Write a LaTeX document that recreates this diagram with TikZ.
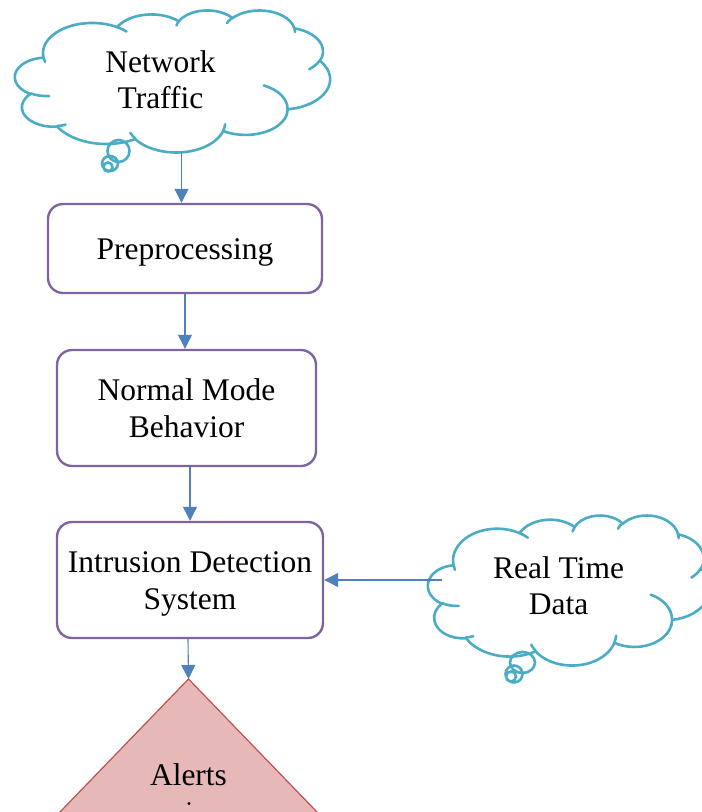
\documentclass[tikz,border=0pt]{standalone}
\usepackage{fontspec}
\setmainfont{Liberation Serif}
\usetikzlibrary{arrows.meta,calc}

\definecolor{boxline}{HTML}{8064A2}
\definecolor{cloudline}{HTML}{4BACC6}
\definecolor{arrowline}{HTML}{4F81BD}
\definecolor{alertfill}{HTML}{E6B9B8}
\definecolor{alertline}{HTML}{C0504D}

% Cloud outline in a 432 x 432 design box: x radius / y radius / start angle / sweep
% (angles are visual directions, in degrees, y pointing down)
\def\cloudarcs{67.53/91.90/-190.48748/123.78053, 53.33/72.67/-144.10238/89.94523,
  43.65/59.45/-145.80792/99.72302, 48.57/65.95/-130.98607/117.24173,
  53.33/72.73/-78.70888/109.02692, 67.75/92.20/-46.26725/130.269,
  57.85/78.67/0.62502/114.03333, 67.52/92.15/22.4516/115.17255,
  77.20/105.43/66.24263/75.71102, 43.60/59.18/-274.94208/146.73557,
  43.45/59.45/-246.8285/152.51885}
% Short inner strokes: start x / start y / x radius / y radius / start angle / sweep
\def\cloudstrokes{46.93/261.77/43.45/59.45/86.742/26.4295,
  69.28/348.99/43.60/59.18/73.61047/11.44747,
  164.78/390.90/67.52/92.15/137.62415/14.0811,
  288.27/347.51/67.52/92.15/6.45327/15.99835,
  341.29/229.54/57.85/78.67/-70.29235/70.91737,
  417.98/153.54/53.33/72.73/30.31803/27.7515,
  383.24/54.26/48.57/65.95/-13.74433/14.8589,
  290.78/39.52/48.57/65.95/-149.18145/18.19537,
  221.41/47.20/43.65/59.45/-163.49427/17.68635,
  140.00/51.92/67.53/91.90/-66.70695/12.31935,
  41.27/157.89/67.53/91.90/157.65435/11.85817}

% Build the TikZ path pieces once (visual angles turned into ellipse parameters)
\gdef\cloudpath{}
\foreach \a/\b/\s/\w in \cloudarcs {%
  \pgfmathsetmacro\ts{atan2(\a*sin(\s),\b*cos(\s))}%
  \pgfmathsetmacro\te{atan2(\a*sin(\s+\w),\b*cos(\s+\w))}%
  \pgfmathsetmacro\dt{mod(\te-(\ts)+720,360)}%
  \xdef\cloudpath{\cloudpath arc[start angle=\ts,delta angle=\dt,x radius=\a,y radius=\b]}%
}
\gdef\cloudinner{}
\foreach \px/\py/\a/\b/\s/\w in \cloudstrokes {%
  \pgfmathsetmacro\ts{atan2(\a*sin(\s),\b*cos(\s))}%
  \pgfmathsetmacro\te{atan2(\a*sin(\s+\w),\b*cos(\s+\w))}%
  \pgfmathsetmacro\dt{mod(\te-(\ts)+720,360)}%
  \xdef\cloudinner{\cloudinner (\px,\py) arc[start angle=\ts,delta angle=\dt,x radius=\a,y radius=\b]}%
}

% \drawcloud{left}{top}{width}{height}
\newcommand\drawcloud[4]{%
  \pgfmathsetmacro\cux{#3/432}%
  \pgfmathsetmacro\cuy{#4/432}%
  \begin{scope}[shift={(#1,#2)}, x=\cux pt, y=-\cuy pt]
    \draw[cloudstroke] (39.00,143.70) \cloudpath -- cycle;
    \draw[cloudstroke] \cloudinner;
  \end{scope}%
}

\begin{document}
\begin{tikzpicture}[x=1pt, y=-1pt,
  txt/.style={font=\fontsize{31.5}{36.5}\selectfont, align=center,
    inner sep=0pt, text height=21.5pt, text depth=0pt},
  twolines/.style={text height=58pt, text depth=0pt},
  stage/.style={txt, draw=boxline, line width=2.4pt, rounded corners=15pt},
  cloudstroke/.style={draw=cloudline, line width=2.6pt, line cap=round},
  flow/.style={draw=arrowline, line width=1.1pt,
    -{Triangle[width=14pt,length=14pt]}},
]
\useasboundingbox (0,0) rectangle (702,812);
\clip (0,0) rectangle (702,812);

% thought clouds
\drawcloud{15}{10}{315}{142}
\drawcloud{428}{515}{282}{150}
\draw[cloudstroke] (118.5,151) circle[radius=11]
                   (110,163.5) circle[x radius=8, y radius=7.5]
                   (108,167) circle[radius=4.5];
\draw[cloudstroke] (522.5,662.5) circle[x radius=12.5, y radius=10.5]
                   (514,674) circle[radius=8.5]
                   (511,676.5) circle[radius=5];

\node[txt, twolines] (traffic) at (160.5,79.5) {Network\\Traffic};
\node[txt, twolines] (realtime) at (558.5,585.5) {Real Time\\Data};

% processing stages
\node[stage, minimum width=274, minimum height=89] (prep) at (185,248.5) {Preprocessing};
\node[stage, twolines, minimum width=259, minimum height=116] (normal) at (186.5,408) {Normal Mode\\Behavior};
\node[stage, twolines, minimum width=266, minimum height=116] (ids) at (190,580) {Intrusion Detection\\System};

% alert triangle
\coordinate (apex) at (188.5,679);
\draw[fill=alertfill, draw=alertline, line width=1.2pt]
  (apex) -- ++(-180,186.3) -- ++(360,0) -- cycle;
\node[txt] (alerts) at (188.5,774.3) {Alerts};
\fill (189,803.5) circle[radius=1.7];

% connectors
\coordinate (trafficTail) at (181.5,152);
\coordinate (realTail) at (442,580);
\draw[flow] (trafficTail) -- (trafficTail |- prep.north);
\draw[flow] (prep.south) -- (prep.south |- normal.north);
\draw[flow] ([xshift=3.5pt]normal.south) -- ([xshift=3.5pt]normal.south |- ids.north);
\draw[flow] ([xshift=-2pt]ids.south) -- (apex);
\draw[flow] (realTail) -- (realTail -| ids.east);
\end{tikzpicture}
\end{document}
